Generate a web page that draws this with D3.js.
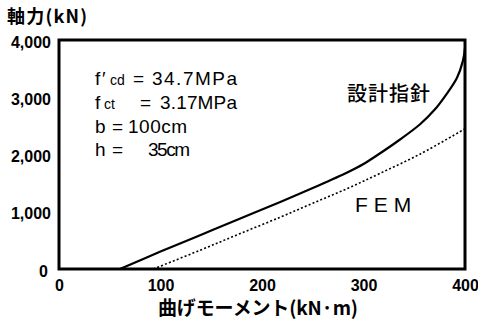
<!DOCTYPE html>
<html><head><meta charset="utf-8">
<script src="https://cdn.jsdelivr.net/npm/d3@7"></script>
<style>
html,body{margin:0;padding:0;background:#fff;}
svg{display:block;}
</style></head>
<body>
<svg id="chart" width="478" height="320"></svg>
<script>
// ---- data ----
const xTicks = [0, 100, 200, 300, 400];
const yTicks = [0, 1000, 2000, 3000, 4000];
const momentDesign = [60, 100, 139, 178, 218, 250, 284, 300, 316, 336, 356, 370, 382, 392, 398, 400];
const axialDesign  = [0, 304, 590, 877, 1170, 1415, 1686, 1834, 2017, 2262, 2533, 2780, 3060, 3336, 3640, 3860];
const momentFEM = [93, 139, 178, 218, 250, 284, 316, 356, 400];
const axialFEM  = [0, 328, 615, 905, 1149, 1405, 1668, 2010, 2449];
const seriesLabels = ["設計指針", "FEM"];
const yTitle = "軸力(kN)";
const xTitle = "曲げモーメント(kN·m)";
const paramLines = [
  ["f", "′", "cd", "=", "34.7MPa"],
  ["f", "", "ct", "=", "3.17MPa"],
  ["b", "", "", "=", "100cm"],
  ["h", "", "", "=", "35cm"]
];

// ---- layout ----
const svg = d3.select("#chart");
const L = 59, R = 465, T = 40, B = 269;
const x = d3.scaleLinear().domain([0, 400]).range([L, R]);
const y = d3.scaleLinear().domain([0, 4000]).range([B, T]);

const tickFont = "'Liberation Sans', Arial, sans-serif";
const cjkFont = "'Noto Sans CJK JP', 'Noto Sans CJK SC', sans-serif";

// axes
const yAxis = d3.axisLeft(y).tickValues(yTicks).tickSize(0).tickPadding(8).tickFormat(d3.format(","));
const gy = svg.append("g").attr("transform", `translate(${L},0)`).call(yAxis);
gy.select(".domain").remove();
gy.selectAll("text").attr("font-family", tickFont).attr("font-weight", "bold")
  .attr("font-size", 16).attr("fill", "#000").attr("dy", "0.45em");

const xAxis = d3.axisBottom(x).tickValues(xTicks).tickSize(0).tickPadding(11);
const gx = svg.append("g").attr("transform", `translate(0,${B})`).call(xAxis);
gx.select(".domain").remove();
gx.selectAll("text").attr("font-family", tickFont).attr("font-weight", "bold")
  .attr("font-size", 16).attr("fill", "#000");
gy.selectAll(".tick").filter(d => d === 0).select("text").attr("x", -11);

// frame
svg.append("rect")
  .attr("x", x(0)).attr("y", y(4000))
  .attr("width", x(400) - x(0)).attr("height", y(0) - y(4000))
  .attr("fill", "none").attr("stroke", "#000").attr("stroke-width", 3);

// lines
const line = d3.line().x(d => x(d[0])).y(d => y(d[1])).curve(d3.curveCatmullRom.alpha(0.5));
svg.append("path")
  .datum(momentDesign.map((m, i) => [m, axialDesign[i]]))
  .attr("d", line).attr("fill", "none").attr("stroke", "#000").attr("stroke-width", 2.2);
svg.append("path")
  .datum(momentFEM.map((m, i) => [m, axialFEM[i]]))
  .attr("d", line).attr("fill", "none").attr("stroke", "#000")
  .attr("stroke-width", 1.6).attr("stroke-dasharray", "2,2.2");

// series labels
svg.append("text").attr("x", 347).attr("y", 101)
  .attr("font-family", cjkFont).attr("font-weight", 500).attr("font-size", 20)
  .attr("textLength", 83).text(seriesLabels[0]);
svg.append("text").attr("x", 355).attr("y", 212)
  .attr("font-family", tickFont).attr("font-size", 21)
  .attr("letter-spacing", 6).text(seriesLabels[1]);

// axis titles
svg.append("text").attr("x", 7).attr("y", 23)
  .attr("font-family", cjkFont).attr("font-weight", "bold").attr("font-size", 18)
  .attr("textLength", 80).text(yTitle);
svg.append("text").attr("x", 158).attr("y", 315)
  .attr("font-family", cjkFont).attr("font-weight", "bold").attr("font-size", 19)
  .attr("textLength", 200).text(xTitle);

// parameter block
const pFont = "'Liberation Sans Narrow', 'Liberation Sans', Arial, sans-serif";
const baselines = [85, 109, 133, 156];
const segX = [
  [95, 102, 110, 133, 152],
  [95, 0, 104, 140, 160],
  [95, 0, 0, 112, 128],
  [95, 0, 0, 112, 148]
];
const valLen = [85, 77, 59, 42];
paramLines.forEach((parts, i) => {
  const g = svg.append("text").attr("y", baselines[i])
    .attr("font-family", pFont).attr("font-size", 19).attr("fill", "#000");
  parts.forEach((p, j) => {
    if (!p) return;
    const t = g.append("tspan").attr("x", segX[i][j]).text(p);
    if (j === 2) t.attr("font-size", 14);
    if (j === 4) t.attr("textLength", valLen[i]);
  });
});
</script>
</body></html>
